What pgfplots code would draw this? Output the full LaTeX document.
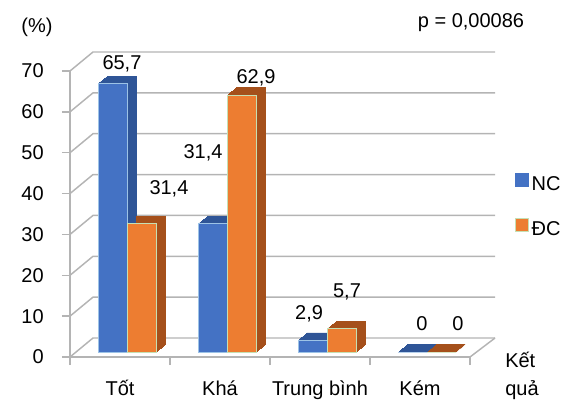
\documentclass[border=0pt]{standalone}
\usepackage{pgfplots}
\pgfplotsset{compat=1.18}
\usepackage{pgfplotstable}
\usepackage{fontspec}
\setmainfont{Liberation Sans}
\definecolor{ncblue}{HTML}{4472C4}
\definecolor{ncdark}{HTML}{2F5597}
\definecolor{ncedge}{HTML}{9DC3E6}
\definecolor{dcorange}{HTML}{ED7D31}
\definecolor{dcdark}{HTML}{A5501B}
\definecolor{dcedge}{HTML}{C5E0B4}
\definecolor{gridc}{HTML}{B4B4B4}

\pgfplotstableread{
x nc dc ncdx ncdy dcdx dcdy
0 65.7 31.4 7.1 15 20.6 26.5
1 31.4 62.9 -7.1 53 10.9 13
2 2.9 5.7 -2.6 19.5 4.1 27.5
3 0 0 7.1 21 12.4 21
}\datatable

\begin{document}
\fontsize{15pt}{18pt}\selectfont
\begin{tikzpicture}
\useasboundingbox (-52.5pt,-32.25pt) rectangle (372pt,267.75pt);
\foreach \v in {0,10,...,70} {\draw[gridc, line width=1.1pt] (0pt,{\v*3.06429pt}) -- ++(17.25pt,14.25pt) -- ++(301.5pt,0pt);}
\draw[gridc, line width=1.1pt] (300pt,0pt) -- ++(18.75pt,14.25pt);
\begin{axis}[at={(0pt,0pt)}, anchor=south west, scale only axis, width=300pt, height=214.5pt,
  xmin=-0.5, xmax=3.5, ymin=0, ymax=70, clip=false,
  axis x line*=bottom, axis y line*=left, axis line style={-, draw=gridc, line width=1.1pt},
  tick align=outside, tick style={gridc, line width=1.1pt}, major tick length=6pt, minor tick length=6pt,
  ytick={0,10,...,70}, yticklabel style={xshift=-8.5pt},
  xtick={0,1,2,3}, xticklabels={Tốt,Khá,Trung bình,Kém}, major x tick style={draw=none},
  minor xtick={-0.5,0.5,1.5,2.5,3.5},
  xticklabel style={text height=14pt, text depth=4pt, yshift=-4pt},
  legend style={at={(1.1125,0.643)}, anchor=north west, draw=none, fill=none, inner sep=0pt, row sep=16pt, nodes={inner sep=2pt}},
  legend cell align=left,
  /pgf/number format/use comma, /pgf/number format/fixed, /pgf/number format/precision=1,
  /pgf/number format/assume math mode=true]
\pgfplotsinvokeforeach{1,...,9}{
\addplot[ybar, bar width=21.75pt, bar shift=-10.875pt, fill=ncdark, draw=ncdark, line width=0.5pt, xshift=5.25pt+#1*0.75pt, yshift=3.75pt+#1*0.6pt, forget plot] table[x=x,y=nc]{\datatable};
\addplot[ybar, bar width=21.75pt, bar shift=10.875pt, fill=dcdark, draw=dcdark, line width=0.5pt, xshift=5.25pt+#1*0.75pt, yshift=3.75pt+#1*0.6pt, forget plot] table[x=x,y=dc]{\datatable};
}
\addplot[ybar, bar width=21.75pt, bar shift=-10.875pt, fill=ncblue, draw=ncedge, line width=0.6pt, xshift=5.25pt, yshift=3.75pt,
  nodes near coords, point meta=explicit,
  visualization depends on={\thisrow{ncdx}\as\ldx}, visualization depends on={\thisrow{ncdy}\as\ldy},
  every node near coord/.append style={anchor=center, xshift=\ldx pt-10.875pt, yshift=\ldy pt, black},
  legend image code/.code={\filldraw[fill=ncblue,draw=ncblue] (0pt,-4.9pt) rectangle (9.75pt,4.9pt);}]
  table[x=x,y=nc,meta=nc]{\datatable};
\addlegendentry{NC}
\addplot[ybar, bar width=21.75pt, bar shift=10.875pt, fill=dcorange, draw=dcedge, line width=0.6pt, xshift=5.25pt, yshift=3.75pt,
  nodes near coords, point meta=explicit,
  visualization depends on={\thisrow{dcdx}\as\ldx}, visualization depends on={\thisrow{dcdy}\as\ldy},
  every node near coord/.append style={anchor=center, xshift=\ldx pt+10.875pt, yshift=\ldy pt, black},
  legend image code/.code={\filldraw[fill=dcorange,draw=dcedge] (0pt,-4.9pt) rectangle (9.75pt,4.9pt);}]
  table[x=x,y=dc,meta=dc]{\datatable};
\addlegendentry{ĐC}
\end{axis}
\node[anchor=base, inner sep=0pt] at (-24.75pt,243pt) {(\%)};
\node[anchor=base, inner sep=0pt] at (300.75pt,246.75pt) {p = 0,00086};
\node[anchor=base west, inner sep=0pt] at (326.25pt,-7.5pt) {Kết};
\node[anchor=base west, inner sep=0pt] at (326.25pt,-28.5pt) {quả};
\end{tikzpicture}
\end{document}
